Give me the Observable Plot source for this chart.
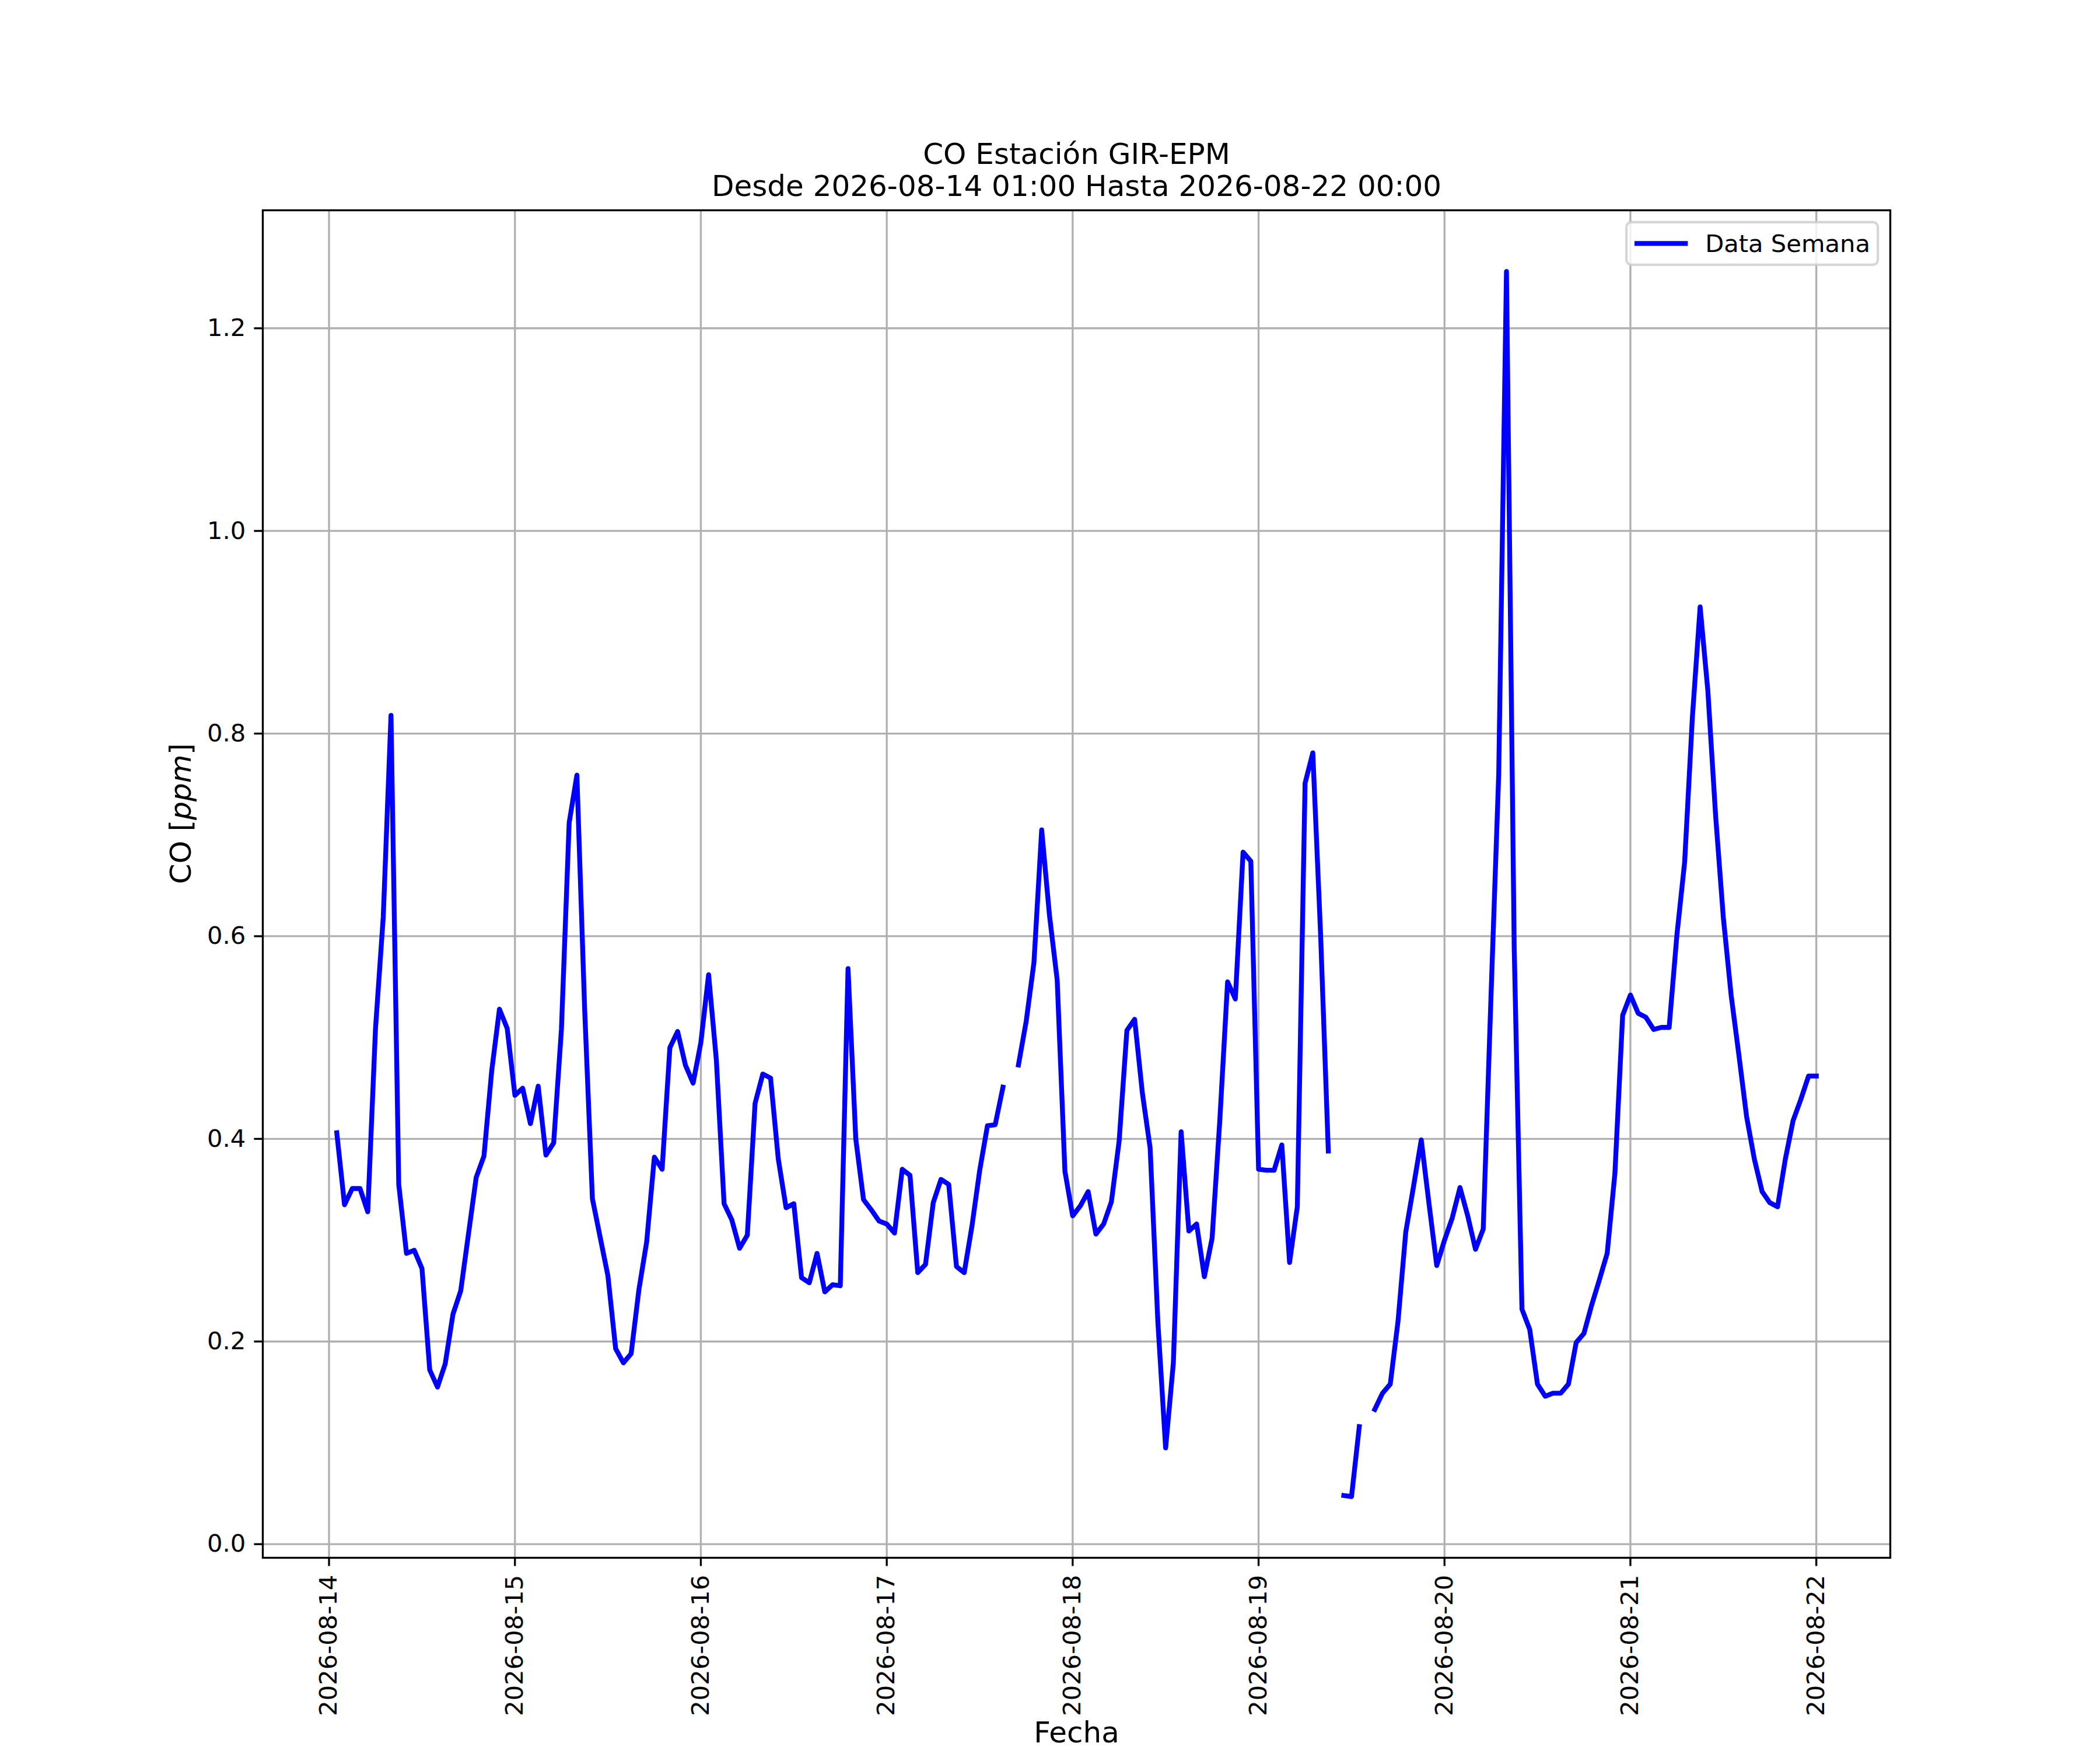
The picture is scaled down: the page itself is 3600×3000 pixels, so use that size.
<!DOCTYPE html>
<html>
<head>
<meta charset="utf-8">
<script src="https://cdn.jsdelivr.net/npm/d3@7"></script>
<script src="https://cdn.jsdelivr.net/npm/@observablehq/plot@0.6"></script>
<style>
  html, body { margin: 0; padding: 0; background: white; }
  #chart svg { display: block; }
</style>
</head>
<body>
<div id="chart"></div>
<script>
// ---- Data (hourly CO ppm, null = missing) ----
const startTime = "2026-08-14T01:00:00Z";
const day14 = [0.406, 0.335, 0.351, 0.351, 0.328, 0.509, 0.619, 0.818, 0.355, 0.287, 0.290, 0.272, 0.172, 0.155, 0.178, 0.227, 0.250, 0.306, 0.362, 0.383, 0.467, 0.528, 0.509];
const day15 = [0.443, 0.450, 0.415, 0.452, 0.384, 0.396, 0.508, 0.712, 0.759, 0.528, 0.341, 0.303, 0.265, 0.193, 0.179, 0.188, 0.251, 0.298, 0.382, 0.370, 0.490, 0.506, 0.473, 0.455];
const day16 = [0.495, 0.562, 0.478, 0.336, 0.320, 0.292, 0.305, 0.435, 0.464, 0.460, 0.380, 0.332, 0.336, 0.263, 0.258, 0.287, 0.249, 0.256, 0.255, 0.568, 0.400, 0.340, 0.330, 0.319];
const day17 = [0.316, 0.307, 0.370, 0.364, 0.268, 0.276, 0.337, 0.360, 0.355, 0.274, 0.268, 0.314, 0.369, 0.413, 0.414, 0.451, null, 0.473, 0.516, 0.574, 0.705, 0.621, 0.557, 0.368];
const day18 = [0.324, 0.334, 0.348, 0.306, 0.316, 0.338, 0.398, 0.507, 0.518, 0.445, 0.391, 0.219, 0.095, 0.179, 0.407, 0.309, 0.316, 0.264, 0.302, 0.419, 0.555, 0.538, 0.683, 0.674];
const day19 = [0.370, 0.369, 0.369, 0.394, 0.278, 0.333, 0.751, 0.781, 0.603, 0.388, null, 0.048, 0.047, 0.116, null, 0.133, 0.149, 0.158, 0.220, 0.308, 0.353, 0.399, 0.336, 0.275];
const day20 = [0.300, 0.322, 0.352, 0.324, 0.291, 0.311, 0.540, 0.760, 1.256, 0.588, 0.232, 0.212, 0.158, 0.146, 0.149, 0.149, 0.158, 0.199, 0.208, 0.236, 0.261, 0.287, 0.366, 0.522];
const day21 = [0.542, 0.524, 0.520, 0.508, 0.510, 0.510, 0.601, 0.673, 0.816, 0.925, 0.842, 0.719, 0.618, 0.542, 0.483, 0.422, 0.380, 0.348, 0.337, 0.333, 0.380, 0.418, 0.439, 0.462];
const day22 = [0.462];

const xTickLabels = ["2026-08-14", "2026-08-15", "2026-08-16", "2026-08-17", "2026-08-18", "2026-08-19", "2026-08-20", "2026-08-21", "2026-08-22"];
const yTickValues = [0.0, 0.2, 0.4, 0.6, 0.8, 1.0, 1.2];

const titleLine1 = "CO Estación GIR-EPM";
const titleLine2 = "Desde 2026-08-14 01:00 Hasta 2026-08-22 00:00";
const xLabel = "Fecha";
const legendLabel = "Data Semana";

// ---- Build table ----
const values = [...day14, ...day15, ...day16, ...day17, ...day18, ...day19, ...day20, ...day21, ...day22];
const t0 = Date.parse(startTime);
const data = values.map((v, i) => ({date: new Date(t0 + i * 3600e3), value: v}));
const xTicks = xTickLabels.map(s => new Date(s + "T00:00:00Z"));

// matplotlib-like 5% auto margins
const tMin = +data[0].date, tMax = +data[data.length - 1].date;
const tPad = (tMax - tMin) * 0.05;
const xDomain = [new Date(tMin - tPad), new Date(tMax + tPad)];
const [vMin, vMax] = d3.extent(values.filter(v => v != null));
const vPad = (vMax - vMin) * 0.05;
const yDomain = [vMin - vPad, vMax + vPad];

const FS = 41.67;   // 10pt @ 300dpi
const FS_L = 50;    // 12pt @ 300dpi
const LW = 3.33;    // 0.8pt
const FONT = "DejaVu Sans";

const plot = Plot.plot({
  width: 3600,
  height: 3000,
  marginLeft: 450,
  marginRight: 360,
  marginTop: 360,
  marginBottom: 330,
  style: {fontFamily: FONT, fontSize: FS + "px", background: "white", color: "black", overflow: "visible"},
  x: {type: "utc", domain: xDomain},
  y: {domain: yDomain},
  marks: [
    Plot.gridX(xTicks, {stroke: "#b0b0b0", strokeOpacity: 1, strokeWidth: LW}),
    Plot.gridY(yTickValues, {stroke: "#b0b0b0", strokeOpacity: 1, strokeWidth: LW}),
    Plot.line(data, {x: "date", y: "value", stroke: "#0000ff", strokeWidth: 8.33, strokeLinejoin: "round", strokeLinecap: "square"}),
    Plot.frame({stroke: "black", strokeWidth: LW}),
    Plot.axisX(xTicks, {
      tickFormat: d3.utcFormat("%Y-%m-%d"), tickRotate: -90,
      tickSize: 14.58, tickPadding: 14.58, strokeWidth: LW, label: null,
      fontSize: FS, fill: "black"
    }),
    Plot.axisY(yTickValues, {
      tickFormat: d3.format(".1f"),
      tickSize: 14.58, tickPadding: 14.58, strokeWidth: LW, label: null,
      fontSize: FS, fill: "black"
    }),
    Plot.text([titleLine1], {frameAnchor: "top", lineAnchor: "middle", dy: -96, fontSize: FS_L, fill: "black", fontFamily: FONT}),
    Plot.text([titleLine2], {frameAnchor: "top", lineAnchor: "middle", dy: -41, fontSize: FS_L, fill: "black", fontFamily: FONT}),
    Plot.text([xLabel], {frameAnchor: "bottom", lineAnchor: "middle", dy: 300, fontSize: FS_L, fill: "black", fontFamily: FONT}),
    Plot.text(["CO [ppm]"], {frameAnchor: "left", lineAnchor: "middle", dx: -140, rotate: -90, fontSize: FS_L, fill: "black", fontFamily: FONT, className: "ylab"})
  ]
});

document.getElementById("chart").appendChild(plot);

// italic "ppm" as in matplotlib mathtext
d3.select(plot).selectAll(".ylab text").html('CO [<tspan font-style="italic">ppm</tspan>]');

// ---- Legend (upper right, matplotlib style) ----
const xr = plot.scale("x").range;   // [left, right]
const yr = plot.scale("y").range;   // [bottom, top]
const frameRight = Math.max(...xr), frameTop = Math.min(...yr);
const lgPad = 0.5 * FS;
const boxW = 431, boxH = 73;
const bx = frameRight - lgPad - boxW, by = frameTop + lgPad;
const lg = d3.select(plot).append("g")
  .attr("font-family", FONT).attr("font-size", FS).attr("text-anchor", "start");
lg.append("rect")
  .attr("x", bx).attr("y", by).attr("width", boxW).attr("height", boxH)
  .attr("rx", 8.3).attr("ry", 8.3)
  .attr("fill", "white").attr("fill-opacity", 0.8)
  .attr("stroke", "#cccccc").attr("stroke-opacity", 0.8).attr("stroke-width", 4.2);
const cy = by + boxH / 2;
lg.append("line")
  .attr("x1", bx + 18).attr("x2", bx + 101).attr("y1", cy).attr("y2", cy)
  .attr("stroke", "#0000ff").attr("stroke-width", 8.33).attr("stroke-linecap", "square");
lg.append("text")
  .attr("x", bx + 135).attr("y", cy + 15).attr("fill", "black").attr("text-anchor", "start")
  .text(legendLabel);
</script>
</body>
</html>
